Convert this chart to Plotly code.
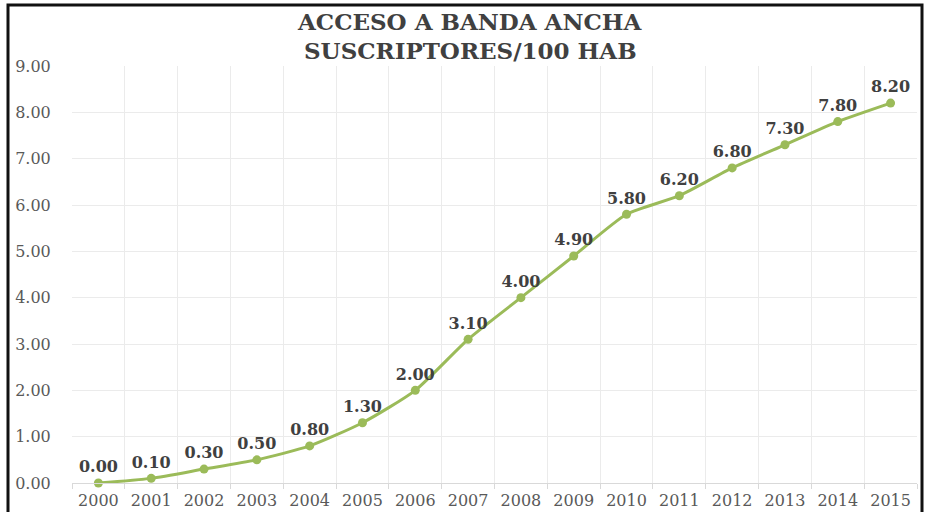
import plotly.graph_objects as go

years = [2000, 2001, 2002, 2003, 2004, 2005, 2006, 2007, 2008,
         2009, 2010, 2011, 2012, 2013, 2014, 2015]
subscribers = [0.00, 0.10, 0.30, 0.50, 0.80, 1.30, 2.00, 3.10, 4.00,
               4.90, 5.80, 6.20, 6.80, 7.30, 7.80, 8.20]
y_ticks = [0, 1, 2, 3, 4, 5, 6, 7, 8, 9]
title_lines = ["ACCESO A BANDA ANCHA", "SUSCRIPTORES/100 HAB"]

GREEN = "#9BBB59"
TEXT = "#404040"
AXIS_TEXT = "#595959"
GRID = "#ebebeb"
FONT = "DejaVu Serif"

W, H = 927, 512
M = dict(l=72, r=10, t=66, b=29)
plot_w = W - M["l"] - M["r"]
plot_h = H - M["t"] - M["b"]


def px_to_paper_x(px):
    return (px - M["l"]) / plot_w


def px_to_paper_y(py):
    return (H - M["b"] - py) / plot_h


fig = go.Figure()
fig.add_trace(go.Scatter(
    x=years,
    y=subscribers,
    mode="lines+markers+text",
    line=dict(color=GREEN, width=3, shape="spline", smoothing=0.6),
    marker=dict(color=GREEN, size=9),
    text=[f"{v:.2f}" for v in subscribers],
    textposition="top center",
    textfont=dict(family=FONT, size=16, color=TEXT, weight="bold"),
    cliponaxis=False,
    hoverinfo="x+y",
))

boundaries = [y - 0.5 for y in years] + [years[-1] + 0.5]

# two-line chart title, placed line by line
title_annotations = [
    dict(
        text=line, xref="paper", yref="paper",
        x=px_to_paper_x(470), y=px_to_paper_y(cy),
        xanchor="center", yanchor="middle", showarrow=False,
        font=dict(family=FONT, size=23, color=TEXT, weight="bold"),
    )
    for line, cy in zip(title_lines, [22, 50])
]

fig.update_layout(
    width=W,
    height=H,
    margin=M,
    paper_bgcolor="white",
    plot_bgcolor="white",
    showlegend=False,
    annotations=title_annotations,
    xaxis=dict(
        range=[years[0] - 0.5, years[-1] + 0.5],
        tickvals=years,
        ticktext=[str(y) for y in years],
        showgrid=False,
        automargin=False,
        ticks="outside",
        ticklen=3,
        tickcolor="rgba(0,0,0,0)",
        showline=True,
        linecolor="#d9d9d9",
        linewidth=1,
        tickfont=dict(family=FONT, size=16, color=AXIS_TEXT),
        minor=dict(
            tickvals=boundaries,
            showgrid=True,
            gridcolor=GRID,
            gridwidth=1,
            ticks="outside",
            ticklen=5,
            tickcolor="#d9d9d9",
        ),
        zeroline=False,
    ),
    yaxis=dict(
        range=[0, 9],
        tickvals=y_ticks,
        ticktext=[f"{v:.2f}" for v in y_ticks],
        showgrid=True,
        gridcolor=GRID,
        gridwidth=1,
        zeroline=False,
        automargin=False,
        ticks="outside",
        ticklen=17,
        tickcolor="rgba(0,0,0,0)",
        tickfont=dict(family=FONT, size=16, color=AXIS_TEXT),
    ),
    shapes=[dict(
        type="rect", xref="paper", yref="paper",
        x0=px_to_paper_x(8), x1=px_to_paper_x(922),
        y0=px_to_paper_y(530), y1=px_to_paper_y(5),
        line=dict(color="#111111", width=3),
        fillcolor="rgba(0,0,0,0)",
        layer="above",
    )],
)

fig.write_html("out.html")
